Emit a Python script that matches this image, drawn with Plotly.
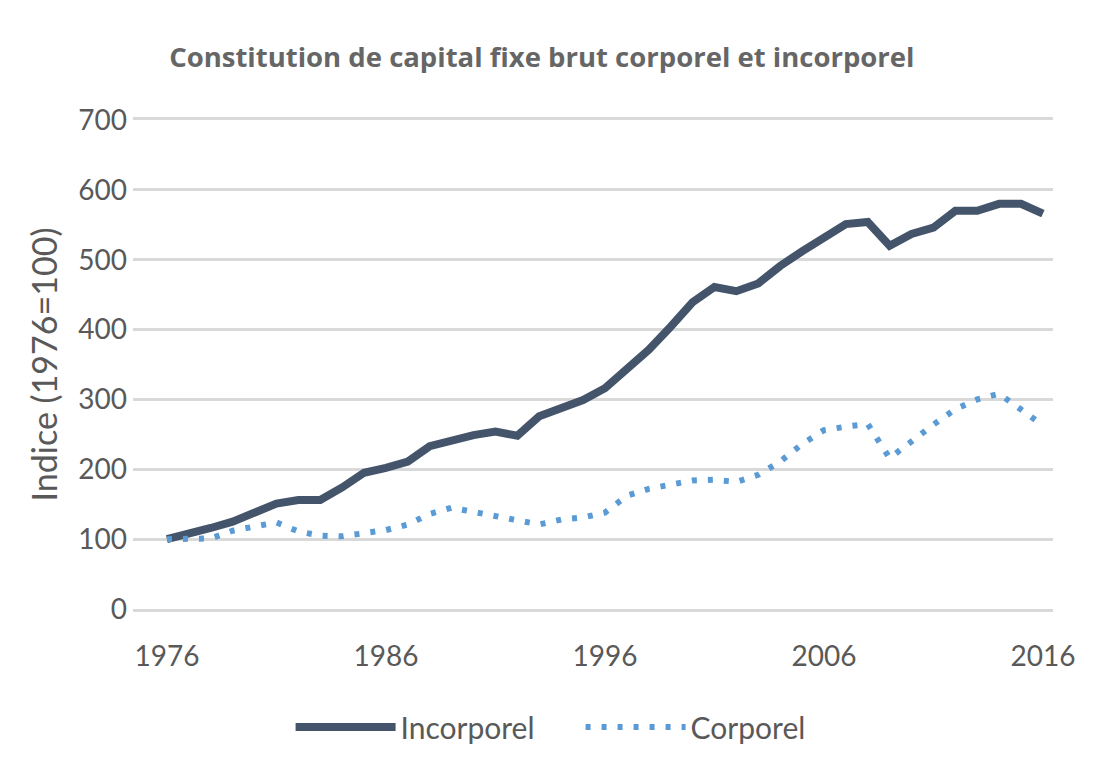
import plotly.graph_objects as go

years = list(range(1976, 2017))
incorporel = [100, 107, 116, 125, 137, 151, 156, 156, 174, 195, 202, 211, 233, 242, 249,
              254, 248, 276, 287, 299, 316, 343, 371, 404, 439, 461, 455, 466, 491, 512,
              532, 551, 554, 520, 537, 546, 570, 570, 580, 580, 566]
corporel = [100, 100, 101, 112, 119, 124, 111, 105, 104, 108, 113, 121, 136, 145, 139,
            133, 126, 121, 128, 131, 138, 162, 172, 177, 184, 185, 182, 192, 211, 236,
            256, 261, 265, 216, 241, 264, 286, 300, 308, 285, 263]
y_ticks = [0, 100, 200, 300, 400, 500, 600, 700]
x_ticks = [1976, 1986, 1996, 2006, 2016]

GREY = "#595959"
GRID = "#D9D9D9"
FONT = "Lato"

fig = go.Figure()
fig.add_trace(go.Scatter(x=years, y=incorporel, mode="lines", name="Incorporel",
                         line=dict(color="#44546A", width=8)))
fig.add_trace(go.Scatter(x=years, y=corporel, mode="lines", name="Corporel",
                         line=dict(color="#5B9BD5", width=6, dash="5px,11px")))

fig.update_layout(
    width=1108, height=757,
    paper_bgcolor="white", plot_bgcolor="white",
    margin=dict(l=133, r=55, t=120, b=148),
    font=dict(family=FONT, color=GREY),
    title=dict(text="<b>Constitution de capital fixe brut corporel et incorporel</b>",
               x=0.489, xanchor="center", xref="container",
               y=1 - 57 / 757, yanchor="middle", yref="container",
               font=dict(size=27.5, color="#666666", family="Open Sans")),
    xaxis=dict(range=[1974.45, 2016.46], tickvals=x_ticks, showgrid=False,
               zeroline=False, showline=True, mirror=True, linecolor=GRID,
               linewidth=2.5, ticks="",
               tickfont=dict(size=28, color=GREY), ticklabelstandoff=21),
    yaxis=dict(range=[0, 700], tickvals=y_ticks, showgrid=True, gridcolor=GRID,
               gridwidth=2.5, zeroline=False, showline=False, ticks="",
               tickfont=dict(size=28, color=GREY), ticklabelstandoff=5,
               title=dict(text="Indice (1976=100)", font=dict(size=34, color=GREY),
                          standoff=10)),
    legend=dict(orientation="h", x=0.524, xanchor="center", xref="container",
                y=1 - 727 / 757, yanchor="middle", yref="container",
                font=dict(size=30, color=GREY), itemwidth=100, entrywidth=175),
    showlegend=True,
)

fig.write_html("out.html")
